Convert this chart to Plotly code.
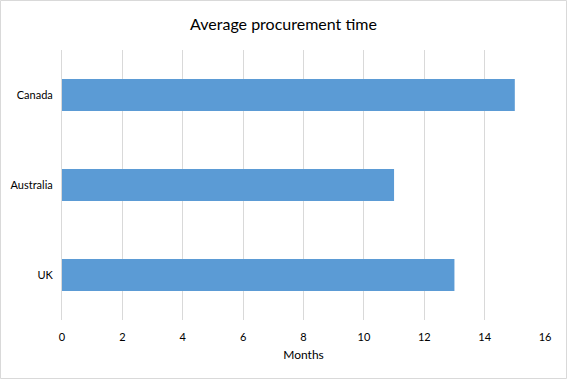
import plotly.graph_objects as go

categories = ["UK", "Australia", "Canada"]
values = [13, 11, 15]
x_ticks = [0, 2, 4, 6, 8, 10, 12, 14, 16]

fig = go.Figure(go.Bar(
    x=values, y=categories, orientation="h",
    marker=dict(color="#5B9BD5", line=dict(width=0)),
    width=0.356,
))

fig.update_layout(
    width=567, height=379,
    margin=dict(l=62, r=22, t=50, b=59),
    paper_bgcolor="white", plot_bgcolor="white",
    title=dict(text="Average procurement time", x=0.5, xanchor="center",
               y=1 - 24/379, yanchor="middle",
               font=dict(family="Lato", size=16, color="#000000")),
    font=dict(family="Lato", size=11, color="#000000"),
    showlegend=False,
    xaxis=dict(range=[0, 16], tickvals=x_ticks, showgrid=True, gridcolor="#d9d9d9",
               gridwidth=1, zeroline=False, showline=False, ticks="outside",
               ticklen=7, tickcolor="rgba(0,0,0,0)",
               title=dict(text="Months", font=dict(size=12), standoff=8)),
    yaxis=dict(showgrid=False, zeroline=False, showline=True, linecolor="#d9d9d9",
               ticks="", ticklabelstandoff=6),
    shapes=[dict(type="rect", xref="paper", yref="paper", x0=-61.5/483, x1=1+21.5/483,
                 y0=-58.5/270, y1=1+49.5/270, line=dict(color="#d9d9d9", width=1))],
)

fig.write_html("out.html", config={"displayModeBar": False},
               post_script="document.body.style.margin='0';")
